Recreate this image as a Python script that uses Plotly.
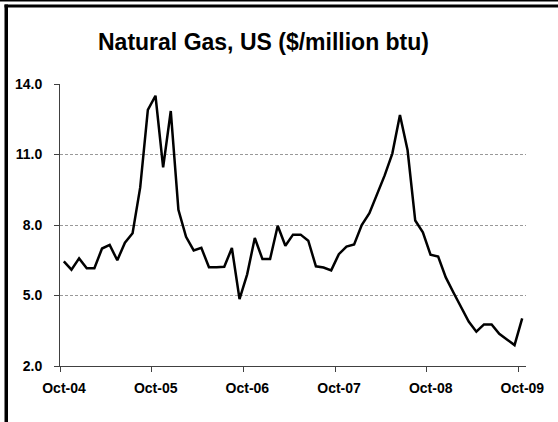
import plotly.graph_objects as go

months = [
    "Oct-04","Nov-04","Dec-04","Jan-05","Feb-05","Mar-05","Apr-05","May-05","Jun-05","Jul-05","Aug-05","Sep-05",
    "Oct-05","Nov-05","Dec-05","Jan-06","Feb-06","Mar-06","Apr-06","May-06","Jun-06","Jul-06","Aug-06","Sep-06",
    "Oct-06","Nov-06","Dec-06","Jan-07","Feb-07","Mar-07","Apr-07","May-07","Jun-07","Jul-07","Aug-07","Sep-07",
    "Oct-07","Nov-07","Dec-07","Jan-08","Feb-08","Mar-08","Apr-08","May-08","Jun-08","Jul-08","Aug-08","Sep-08",
    "Oct-08","Nov-08","Dec-08","Jan-09","Feb-09","Mar-09","Apr-09","May-09","Jun-09","Jul-09","Aug-09","Sep-09",
    "Oct-09",
]
price = [
    6.45, 6.10, 6.58, 6.16, 6.16, 7.00, 7.15, 6.50, 7.25, 7.65, 9.60, 12.90,
    13.50, 10.45, 12.85, 8.65, 7.50, 6.92, 7.03, 6.20, 6.20, 6.22, 7.02, 4.85,
    5.90, 7.45, 6.55, 6.55, 7.97, 7.12, 7.59, 7.59, 7.33, 6.24, 6.19, 6.07,
    6.76, 7.08, 7.17, 8.00, 8.50, 9.33, 10.11, 11.04, 12.68, 11.18, 8.19, 7.69,
    6.74, 6.66, 5.77, 5.13, 4.48, 3.89, 3.46, 3.77, 3.77, 3.37, 3.13, 2.89,
    4.03,
]
tick_labels = ["Oct-04", "Oct-05", "Oct-06", "Oct-07", "Oct-08", "Oct-09"]
y_ticks = [2.0, 5.0, 8.0, 11.0, 14.0]

W, H = 558, 422
L, R, T, B = 60, 558 - 526, 84, 422 - 366
PW, PH = W - L - R, H - T - B

def px_x(p):
    return (p - L) / PW

def px_y(p):
    return (H - B - p) / PH

idx = list(range(len(months)))
tick_pos = [months.index(m) - 0.5 for m in tick_labels]

fig = go.Figure()
fig.add_trace(go.Scatter(
    x=idx, y=price, mode="lines",
    line=dict(color="black", width=2.5),
    hoverinfo="skip", showlegend=False,
))

font_fam = "Liberation Sans, Arial, sans-serif"

fig.update_layout(
    width=W, height=H,
    margin=dict(l=L, r=R, t=T, b=B),
    paper_bgcolor="white", plot_bgcolor="white",
    title=dict(
        text="Natural Gas, US ($/million btu)",
        x=263.5 / W, xanchor="center", xref="container",
        y=1 - 42 / H, yanchor="middle", yref="container",
        font=dict(family=font_fam, size=23, color="black", weight="bold"),
    ),
    xaxis=dict(
        range=[-0.5, len(months) - 0.5],
        tickmode="array", tickvals=tick_pos, ticktext=tick_labels,
        ticklabelshift=4, ticklabelstandoff=4,
        ticks="outside", ticklen=5, tickcolor="#404040", tickwidth=1,
        showline=True, linecolor="#404040", linewidth=1,
        showgrid=False, zeroline=False,
        tickfont=dict(family=font_fam, size=14, color="black", weight="bold"),
    ),
    yaxis=dict(
        range=[2, 14],
        tickmode="array", tickvals=y_ticks,
        ticktext=[f"{v:.1f}" for v in y_ticks],
        ticks="outside", ticklen=5, tickcolor="#404040", tickwidth=1,
        ticklabelstandoff=9,
        showline=True, linecolor="#404040", linewidth=1,
        showgrid=True, gridcolor="#999999", gridwidth=1, griddash="3px,2px",
        zeroline=False,
        tickfont=dict(family=font_fam, size=14, color="black", weight="bold"),
    ),
    shapes=[
        dict(type="rect", xref="paper", yref="paper",
             x0=px_x(0), x1=px_x(W), y0=px_y(0), y1=px_y(1.5),
             fillcolor="black", line=dict(width=0), layer="above"),
        dict(type="rect", xref="paper", yref="paper",
             x0=px_x(4.5), x1=px_x(W), y0=px_y(4.5), y1=px_y(7.5),
             fillcolor="black", line=dict(width=0), layer="above"),
        dict(type="rect", xref="paper", yref="paper",
             x0=px_x(4.5), x1=px_x(8), y0=px_y(4.5), y1=px_y(H),
             fillcolor="black", line=dict(width=0), layer="above"),
    ],
)

fig.write_html(
    "out.html",
    config={"displayModeBar": False},
    post_script="document.body.style.margin='0px';",
)
